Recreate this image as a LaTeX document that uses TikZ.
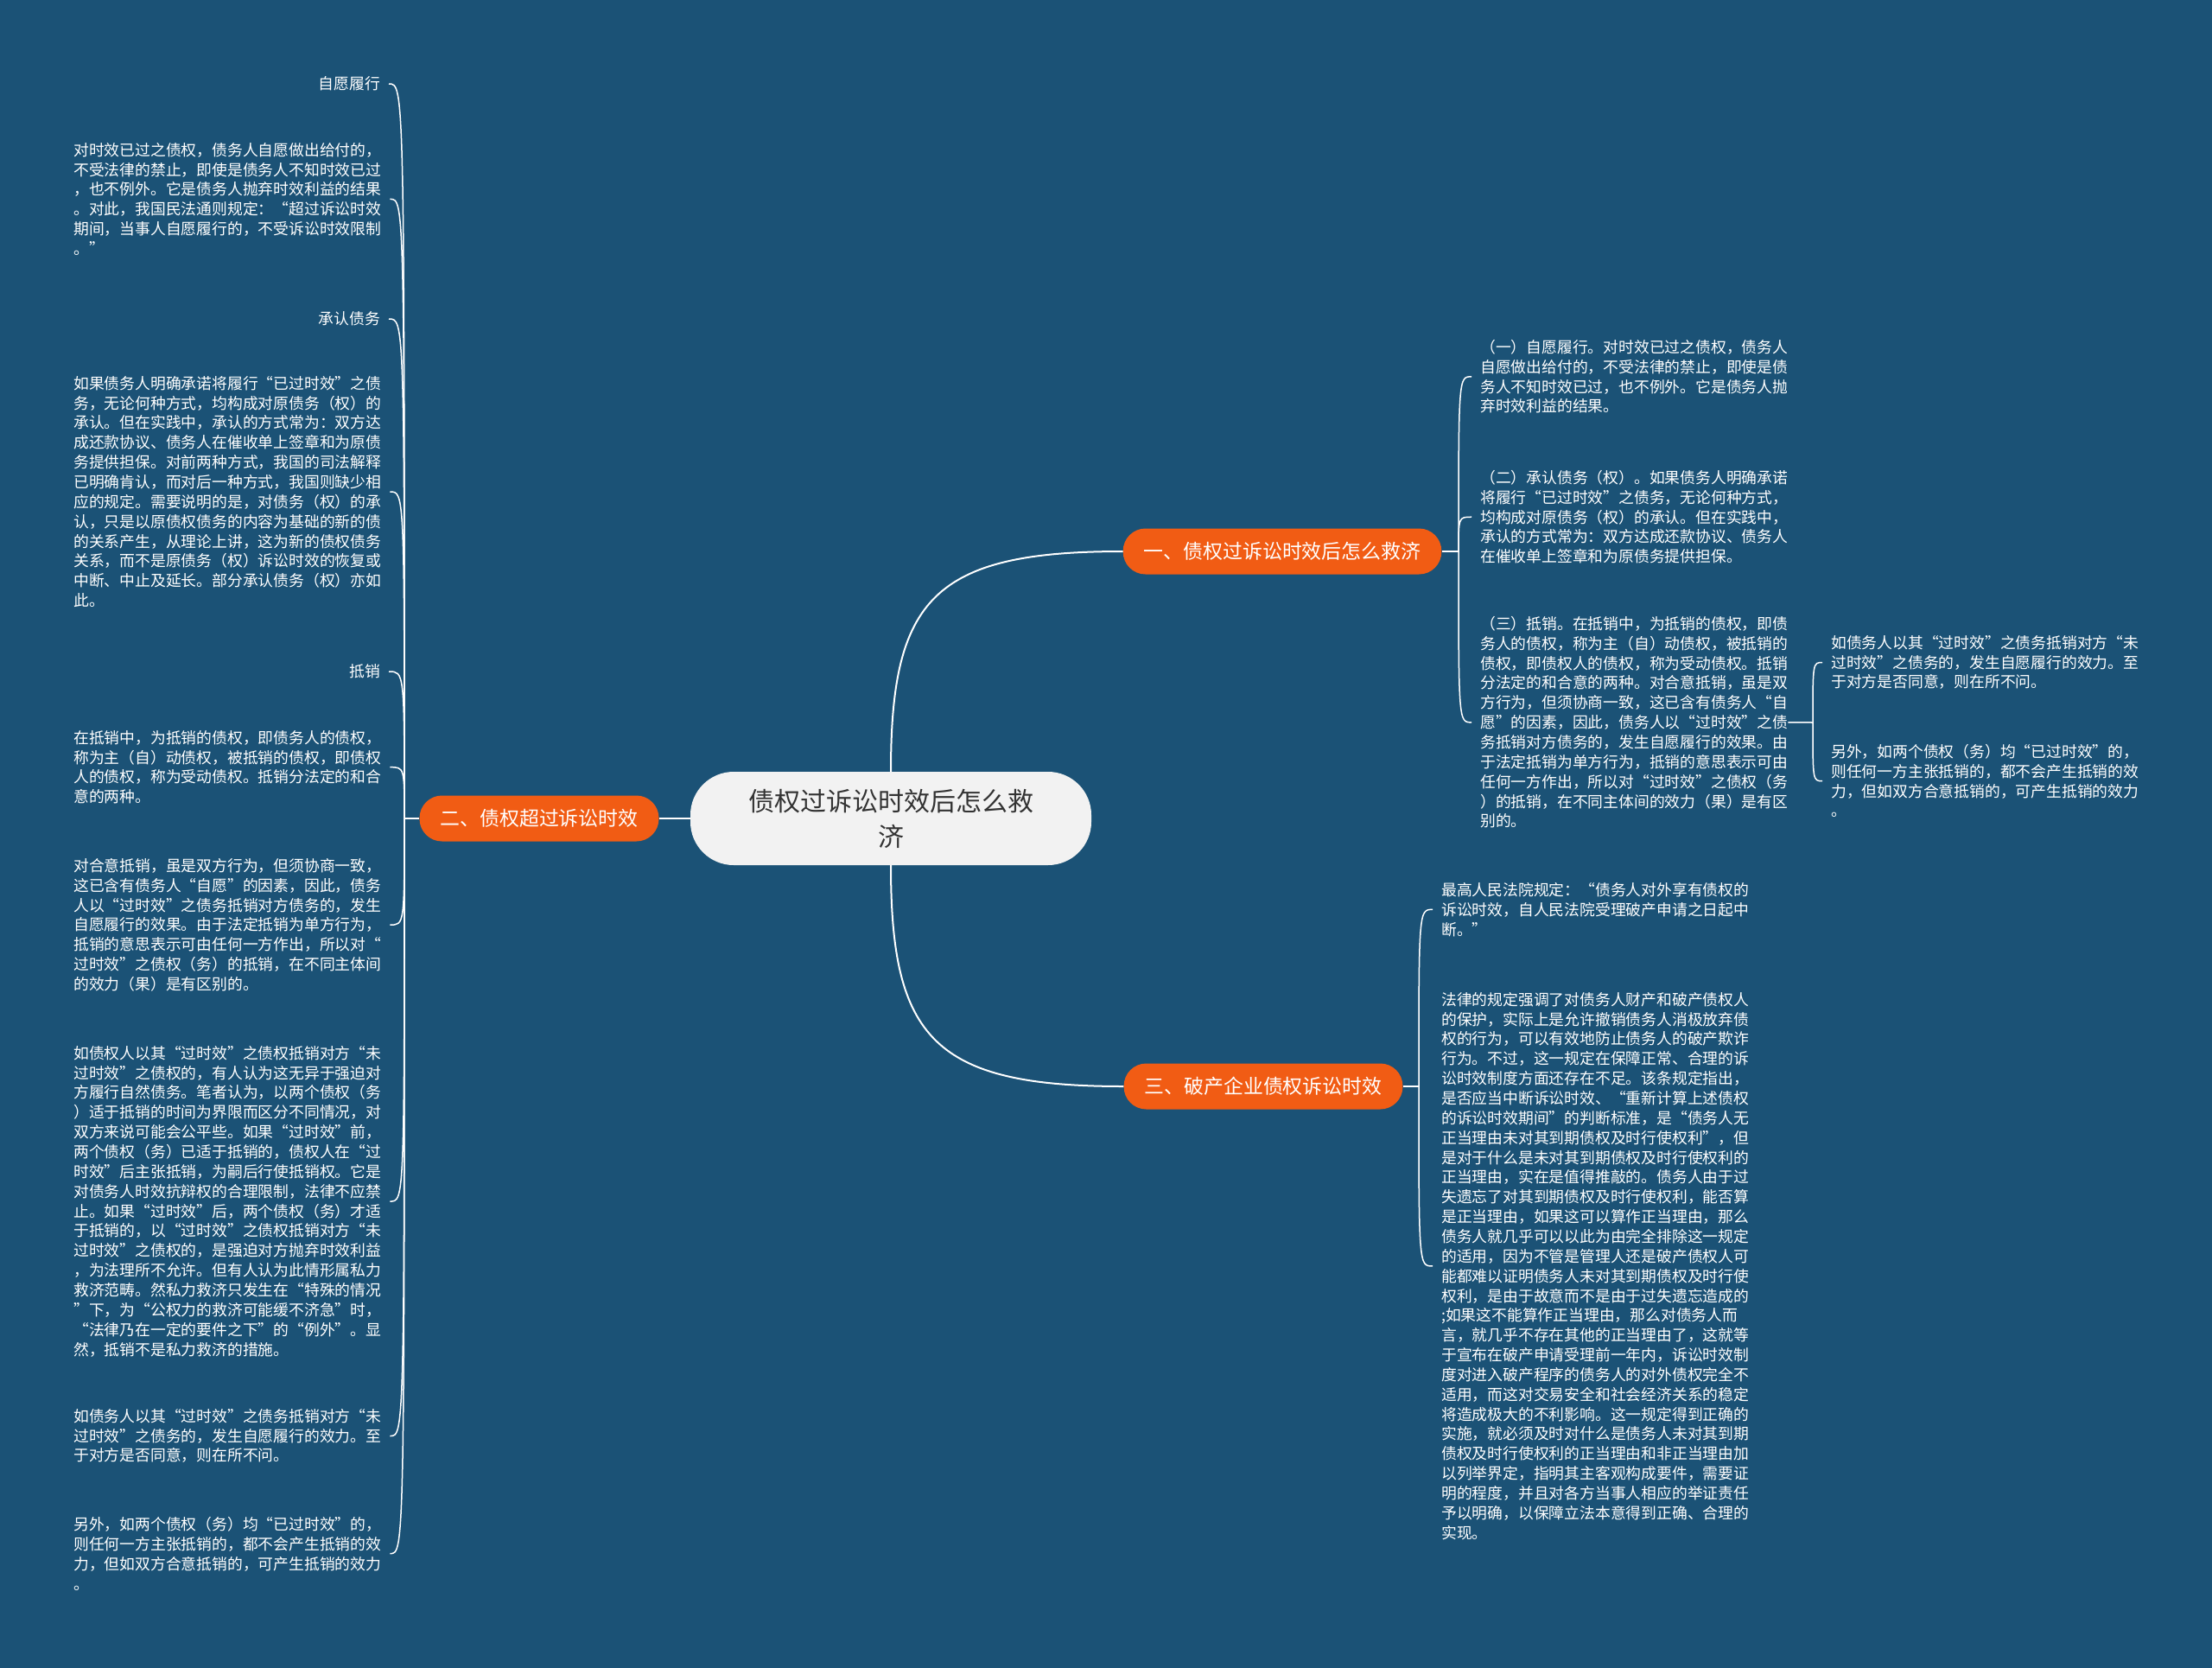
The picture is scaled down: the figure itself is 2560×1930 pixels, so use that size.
\documentclass[tikz,border=0pt]{standalone}
\usepackage{fontspec}
\setmainfont{Noto Sans CJK SC}
\usetikzlibrary{positioning, calc}

\definecolor{mapblue}{RGB}{27,82,118}
\definecolor{maporange}{RGB}{241,92,20}
\definecolor{rootgray}{RGB}{242,242,242}

\begin{document}
\begin{tikzpicture}[x=1pt, y=-1pt,
    root/.style={fill=rootgray, text=black!80, rounded corners=50pt, minimum width=464pt, minimum height=108pt, align=center, font=\fontsize{30}{41}\selectfont},
    topic/.style={fill=maporange, text=white, rounded corners=26pt, minimum height=53pt, inner xsep=24pt, font=\fontsize{22.9}{26}\selectfont},
    leaf/.style={text=white, inner sep=0pt, align=left, font=\fontsize{17.8}{22.85}\selectfont},
    limb/.style={draw=white, line width=2pt},
    twig/.style={draw=white, line width=1.5pt}]
  \fill[mapblue] (0,0) rectangle (2560,1930); % page size

  % centre and main topics
  \node[root] (root) at (1031,947) {债权过诉讼时效后怎么救\\济};
  \node[topic] (b1) at (1484,638) {一、债权过诉讼时效后怎么救济};
  \node[topic] (b2) at (624,947) {二、债权超过诉讼时效};
  \node[topic] (b3) at (1462,1257) {三、破产企业债权诉讼时效};

  \draw[limb] (root.north) .. controls (1031,693) and (1080,638) .. (b1.west);
  \draw[limb] (root.south) .. controls (1031,1201) and (1080,1257) .. (b3.west);
  \draw[limb] (root.west) -- (b2.east);

  % left side
  \node[leaf, anchor=east] (l1) at (440,97) {自愿履行};
  \node[leaf, anchor=north west] (l2) at (85,165) {对时效已过之债权，债务人自愿做出给付的，\\
    不受法律的禁止，即使是债务人不知时效已过\\
    ，也不例外。它是债务人抛弃时效利益的结果\\
    。对此，我国民法通则规定：“超过诉讼时效\\
    期间，当事人自愿履行的，不受诉讼时效限制\\
    。”};
  \node[leaf, anchor=east] (l3) at (440,369) {承认债务};
  \node[leaf, anchor=north west] (l4) at (85,435) {如果债务人明确承诺将履行“已过时效”之债\\
    务，无论何种方式，均构成对原债务（权）的\\
    承认。但在实践中，承认的方式常为：双方达\\
    成还款协议、债务人在催收单上签章和为原债\\
    务提供担保。对前两种方式，我国的司法解释\\
    已明确肯认，而对后一种方式，我国则缺少相\\
    应的规定。需要说明的是，对债务（权）的承\\
    认，只是以原债权债务的内容为基础的新的债\\
    的关系产生，从理论上讲，这为新的债权债务\\
    关系，而不是原债务（权）诉讼时效的恢复或\\
    中断、中止及延长。部分承认债务（权）亦如\\
    此。};
  \node[leaf, anchor=east] (l5) at (440,777) {抵销};
  \node[leaf, anchor=north west] (l6) at (85,845) {在抵销中，为抵销的债权，即债务人的债权，\\
    称为主（自）动债权，被抵销的债权，即债权\\
    人的债权，称为受动债权。抵销分法定的和合\\
    意的两种。};
  \node[leaf, anchor=north west] (l7) at (85,993) {对合意抵销，虽是双方行为，但须协商一致，\\
    这已含有债务人“自愿”的因素，因此，债务\\
    人以“过时效”之债务抵销对方债务的，发生\\
    自愿履行的效果。由于法定抵销为单方行为，\\
    抵销的意思表示可由任何一方作出，所以对“\\
    过时效”之债权（务）的抵销，在不同主体间\\
    的效力（果）是有区别的。};
  \node[leaf, anchor=north west] (l8) at (85,1210) {如债权人以其“过时效”之债权抵销对方“未\\
    过时效”之债权的，有人认为这无异于强迫对\\
    方履行自然债务。笔者认为，以两个债权（务\\
    ）适于抵销的时间为界限而区分不同情况，对\\
    双方来说可能会公平些。如果“过时效”前，\\
    两个债权（务）已适于抵销的，债权人在“过\\
    时效”后主张抵销，为嗣后行使抵销权。它是\\
    对债务人时效抗辩权的合理限制，法律不应禁\\
    止。如果“过时效”后，两个债权（务）才适\\
    于抵销的，以“过时效”之债权抵销对方“未\\
    过时效”之债权的，是强迫对方抛弃时效利益\\
    ，为法理所不允许。但有人认为此情形属私力\\
    救济范畴。然私力救济只发生在“特殊的情况\\
    ”下，为“公权力的救济可能缓不济急”时，\\
    “法律乃在一定的要件之下”的“例外”。显\\
    然，抵销不是私力救济的措施。};
  \node[leaf, anchor=north west] (l9) at (85,1630) {如债务人以其“过时效”之债务抵销对方“未\\
    过时效”之债务的，发生自愿履行的效力。至\\
    于对方是否同意，则在所不问。};
  \node[leaf, anchor=north west] (l10) at (85,1755) {另外，如两个债权（务）均“已过时效”的，\\
    则任何一方主张抵销的，都不会产生抵销的效\\
    力，但如双方合意抵销的，可产生抵销的效力\\
    。};

  \coordinate (b2a) at (468,947);
  \draw[twig] (b2.west) -- (b2a);
  \foreach \n in {l1,l2,l3,l4,l5,l6,l7,l8,l9,l10}
    \draw[twig] (b2a) .. controls (b2a |- \n.east) .. ([xshift=10pt]\n.east);

  % right side, topic one
  \node[leaf, anchor=north west] (r1) at (1713,393) {（一）自愿履行。对时效已过之债权，债务人\\
    自愿做出给付的，不受法律的禁止，即使是债\\
    务人不知时效已过，也不例外。它是债务人抛\\
    弃时效利益的结果。};
  \node[leaf, anchor=north west] (r2) at (1713,544) {（二）承认债务（权）。如果债务人明确承诺\\
    将履行“已过时效”之债务，无论何种方式，\\
    均构成对原债务（权）的承认。但在实践中，\\
    承认的方式常为：双方达成还款协议、债务人\\
    在催收单上签章和为原债务提供担保。};
  \node[leaf, anchor=north west] (r3) at (1713,713) {（三）抵销。在抵销中，为抵销的债权，即债\\
    务人的债权，称为主（自）动债权，被抵销的\\
    债权，即债权人的债权，称为受动债权。抵销\\
    分法定的和合意的两种。对合意抵销，虽是双\\
    方行为，但须协商一致，这已含有债务人“自\\
    愿”的因素，因此，债务人以“过时效”之债\\
    务抵销对方债务的，发生自愿履行的效果。由\\
    于法定抵销为单方行为，抵销的意思表示可由\\
    任何一方作出，所以对“过时效”之债权（务\\
    ）的抵销，在不同主体间的效力（果）是有区\\
    别的。};
  \node[leaf, anchor=north west] (r3x) at (2119,735) {如债务人以其“过时效”之债务抵销对方“未\\
    过时效”之债务的，发生自愿履行的效力。至\\
    于对方是否同意，则在所不问。};
  \node[leaf, anchor=north west] (r3y) at (2119,861) {另外，如两个债权（务）均“已过时效”的，\\
    则任何一方主张抵销的，都不会产生抵销的效\\
    力，但如双方合意抵销的，可产生抵销的效力\\
    。};

  \coordinate (b1a) at (1688,638);
  \draw[twig] (b1.east) -- (b1a);
  \foreach \n in {r1,r2,r3}
    \draw[twig] (b1a) .. controls (b1a |- \n.west) .. ([xshift=-10pt]\n.west);
  \coordinate (r3a) at (2098,836);
  \draw[twig] (r3.east) -- (r3a);
  \foreach \n in {r3x,r3y}
    \draw[twig] (r3a) .. controls (r3a |- \n.west) .. ([xshift=-10pt]\n.west);

  % right side, topic three
  \node[leaf, anchor=north west] (s1) at (1668,1021) {最高人民法院规定：“债务人对外享有债权的\\
    诉讼时效，自人民法院受理破产申请之日起中\\
    断。”};
  \node[leaf, anchor=north west] (s2) at (1668,1148) {法律的规定强调了对债务人财产和破产债权人\\
    的保护，实际上是允许撤销债务人消极放弃债\\
    权的行为，可以有效地防止债务人的破产欺诈\\
    行为。不过，这一规定在保障正常、合理的诉\\
    讼时效制度方面还存在不足。该条规定指出，\\
    是否应当中断诉讼时效、“重新计算上述债权\\
    的诉讼时效期间”的判断标准，是“债务人无\\
    正当理由未对其到期债权及时行使权利”，但\\
    是对于什么是未对其到期债权及时行使权利的\\
    正当理由，实在是值得推敲的。债务人由于过\\
    失遗忘了对其到期债权及时行使权利，能否算\\
    是正当理由，如果这可以算作正当理由，那么\\
    债务人就几乎可以以此为由完全排除这一规定\\
    的适用，因为不管是管理人还是破产债权人可\\
    能都难以证明债务人未对其到期债权及时行使\\
    权利，是由于故意而不是由于过失遗忘造成的\\
    ;如果这不能算作正当理由，那么对债务人而\\
    言，就几乎不存在其他的正当理由了，这就等\\
    于宣布在破产申请受理前一年内，诉讼时效制\\
    度对进入破产程序的债务人的对外债权完全不\\
    适用，而这对交易安全和社会经济关系的稳定\\
    将造成极大的不利影响。这一规定得到正确的\\
    实施，就必须及时对什么是债务人未对其到期\\
    债权及时行使权利的正当理由和非正当理由加\\
    以列举界定，指明其主客观构成要件，需要证\\
    明的程度，并且对各方当事人相应的举证责任\\
    予以明确，以保障立法本意得到正确、合理的\\
    实现。};

  \coordinate (b3a) at (1642,1257);
  \draw[twig] (b3.east) -- (b3a);
  \foreach \n in {s1,s2}
    \draw[twig] (b3a) .. controls (b3a |- \n.west) .. ([xshift=-10pt]\n.west);
\end{tikzpicture}
\end{document}
